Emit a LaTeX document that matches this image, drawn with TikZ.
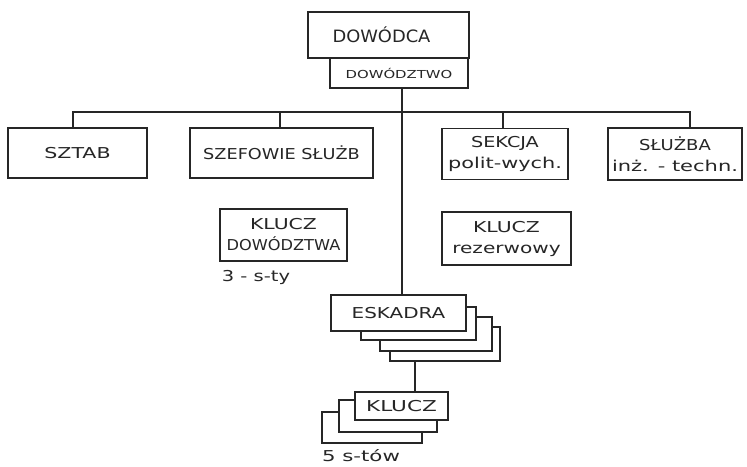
\documentclass[tikz,border=0pt]{standalone}
\usepackage{fontspec}
\setmainfont{DejaVu Sans}
\newcommand{\hw}[2]{{\addfontfeature{FakeStretch=#1}#2}}
\begin{document}
\begin{tikzpicture}[x=1pt,y=-1pt,
  box/.style={draw=black!85,line width=1.1pt,fill=white,inner sep=0pt,align=center,text=black!85},
  ln/.style={draw=black!85,line width=1.1pt},
  lbl/.style={inner sep=0pt,text=black!85},
  f/.style={font=\fontsize{15}{21}\selectfont}]
\useasboundingbox[fill=white] (0,0) rectangle (747,466);
% top
\node[box,minimum width=161pt,minimum height=46pt,font=\fontsize{17}{20}\selectfont] (dc) at (388.5,35) {\raisebox{-7pt}{\hw{1.05}{DOWÓDCA}}\hspace{14pt}};
\node[box,minimum width=138pt,minimum height=30pt,font=\fontsize{11}{13}\selectfont] (dz) at (399,73) {\hw{1.35}{DOWÓDZTWO}};
% second row
\node[box,f,minimum width=139pt,minimum height=50pt] (sztab) at (77.5,153) {\hw{1.37}{SZTAB}};
\node[box,f,minimum width=183pt,minimum height=50pt] (szef) at (281.5,153) {\hw{1.18}{SZEFOWIE SŁUŻB}};
\node[box,f,minimum width=126pt,minimum height=51pt] (sek) at (505,154) {\hw{1.28}{SEKCJA}\\\hw{1.39}{polit-wych.}};
\node[box,f,minimum width=134pt,minimum height=52pt] (slu) at (675,154) {\hw{1.2}{SŁUŻBA}\\\hw{1.4}{inż. - techn.}};
\coordinate (bus) at (0,112);
\draw[ln] ([xshift=-4.5pt]sztab.north) -- ([xshift=-4.5pt]sztab.north |- bus) -- ([xshift=15pt]slu.north |- bus) -- ([xshift=15pt]slu.north);
\draw[ln] ([xshift=-1.5pt]szef.north) -- ([xshift=-1.5pt]szef.north |- bus);
\draw[ln] ([xshift=-2pt]sek.north) -- ([xshift=-2pt]sek.north |- bus);
% third row
\node[box,f,minimum width=127pt,minimum height=52pt] (kd) at (283.5,235) {\hw{1.36}{KLUCZ}\\\hw{1.08}{DOWÓDZTWA}};
\node[lbl,f] (kdl) at (256,277) {\hw{1.3}{3 - s-ty}};
\node[box,f,minimum width=129pt,minimum height=53pt] (kr) at (506.5,238.5) {\hw{1.36}{KLUCZ}\\\hw{1.34}{rezerwowy}};
% eskadra stack
\node[box,minimum width=110pt,minimum height=34pt] (e4) at (445,344) {};
\node[box,minimum width=112pt,minimum height=34pt] (e3) at (436,334) {};
\node[box,minimum width=115pt,minimum height=33pt] (e2) at (418.5,323.5) {};
\node[box,f,minimum width=135pt,minimum height=36pt] (esk) at (398.5,313) {\hw{1.33}{ESKADRA}};
\draw[ln] ([xshift=3pt]dz.south) -- ([xshift=3pt]dz.south |- esk.north);
% klucz stack
\node[box,minimum width=100pt,minimum height=31pt] (k3) at (372,427.5) {};
\node[box,minimum width=98pt,minimum height=32pt] (k2) at (388,416) {};
\node[box,f,minimum width=93pt,minimum height=28pt] (kl) at (401.5,406) {\hw{1.44}{KLUCZ}};
\draw[ln] ([xshift=-30pt]e4.south) -- ([xshift=-30pt]e4.south |- kl.north);
\node[lbl,f] (kll) at (361,456) {\hw{1.42}{5 s-tów}};
\end{tikzpicture}
\end{document}
